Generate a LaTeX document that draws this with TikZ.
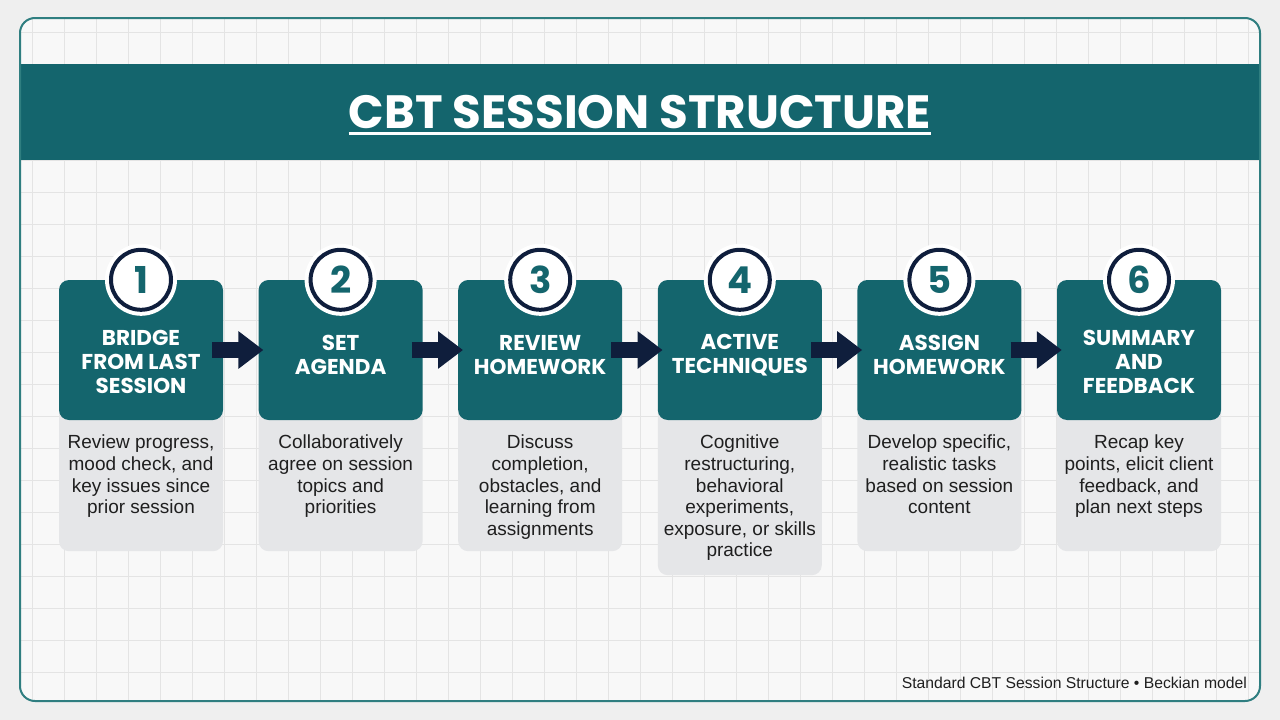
\documentclass[tikz,border=0pt]{standalone}
\usepackage{fontspec}
\setmainfont{Liberation Sans}
\newfontfamily\popfont{Poppins}
\usetikzlibrary{arrows.meta}
\definecolor{bgout}{HTML}{EFEFEF}
\definecolor{framefill}{HTML}{F8F8F8}
\definecolor{gridc}{HTML}{E4E4E4}
\definecolor{framec}{HTML}{2F7E80}
\definecolor{tealc}{HTML}{14656D}
\definecolor{navyc}{HTML}{0F1E3C}
\definecolor{grayc}{HTML}{E5E6E8}
\definecolor{textc}{HTML}{1F1F1F}
\tikzset{
  tealbox/.style={fill=tealc, rounded corners=10pt, minimum width=164pt, minimum height=140pt, inner sep=0pt},
  graybox/.style={fill=grayc, rounded corners=10pt, minimum width=164pt, inner sep=0pt, anchor=north},
  cardtitle/.style={text=white, align=center, inner sep=0pt, font=\popfont\bfseries\fontsize{21.5}{23.8}\selectfont},
  carddesc/.style={text=textc, align=center, inner sep=0pt, anchor=north, font=\fontsize{19}{21.6}\selectfont},
  numhalo/.style={circle, fill=white, minimum size=72pt, inner sep=0pt},
  numcircle/.style={circle, fill=white, draw=navyc, line width=4pt, minimum size=60pt, inner sep=0pt, text=tealc, font=\popfont\bfseries\fontsize{37}{37}\selectfont},
  flowarrow/.style={navyc, line width=16pt, -{Triangle[length=25pt,width=36pt]}},
}
\newcommand\cbtcard[6]{%
  \node[graybox, minimum height=#5pt] (gray#1) at (#2,400) {};
  \node[tealbox] (card#1) at (#2,350) {};
  \node[cardtitle] (title#1) at (#2,#6) {#3};
  \node[carddesc] (desc#1) at (#2,435) {#4};
  \node[numhalo] (halo#1) at (card#1.north) {};
  \node[numcircle] (num#1) at (card#1.north) {#1};
}
\begin{document}
\begin{tikzpicture}[x=1pt,y=-1pt]
\useasboundingbox (0,0) rectangle (1280,720);
\fill[bgout] (0,0) rectangle (1280,720);
\fill[framefill, rounded corners=15pt] (20,18) rectangle (1260,701);
\begin{scope}
  \clip[rounded corners=15pt] (20,18) rectangle (1260,701);
  \foreach \x in {32,64,...,1248} \draw[gridc, line width=1pt] (\x,18) -- (\x,701);
  \foreach \y in {32,64,...,700} \draw[gridc, line width=1pt] (20,\y) -- (1260,\y);
  \fill[tealc] (20,64) rectangle (1260,160);
\end{scope}
\draw[framec, line width=2pt, rounded corners=15pt] (20,18) rectangle (1260,701);

\node[text=white, inner sep=0pt, anchor=base, font=\popfont\bfseries\fontsize{46.7}{46.7}\selectfont] (title) at (640,128) {CBT SESSION STRUCTURE};
\draw[white, line width=3pt] ([yshift=-5pt]title.south west) -- ([yshift=-5pt]title.south east);

\cbtcard{1}{141}{BRIDGE\\FROM LAST\\SESSION}{Review progress,\\mood check, and\\key issues since\\prior session}{151}{362}
\cbtcard{2}{340.6}{SET\\AGENDA}{Collaboratively\\agree on session\\topics and\\priorities}{151}{355}
\cbtcard{3}{540.2}{REVIEW\\HOMEWORK}{Discuss\\completion,\\obstacles, and\\learning from\\assignments}{151}{355}
\cbtcard{4}{739.8}{ACTIVE\\TECHNIQUES}{Cognitive\\restructuring,\\behavioral\\experiments,\\exposure, or skills\\practice}{175}{355}
\cbtcard{5}{939.4}{ASSIGN\\HOMEWORK}{Develop specific,\\realistic tasks\\based on session\\content}{151}{355}
\cbtcard{6}{1139}{SUMMARY\\AND\\FEEDBACK}{Recap key\\points, elicit client\\feedback, and\\plan next steps}{151}{362}

\foreach \a/\b in {1/2,2/3,3/4,4/5,5/6}
  \draw[flowarrow] ([xshift=-11pt]card\a.east) -- ([xshift=5pt]card\b.west);

\node[text=textc, inner sep=0pt, anchor=base east, font=\fontsize{15.7}{18}\selectfont] (footer) at (1247,688) {Standard CBT Session Structure • Beckian model};
\end{tikzpicture}
\end{document}
